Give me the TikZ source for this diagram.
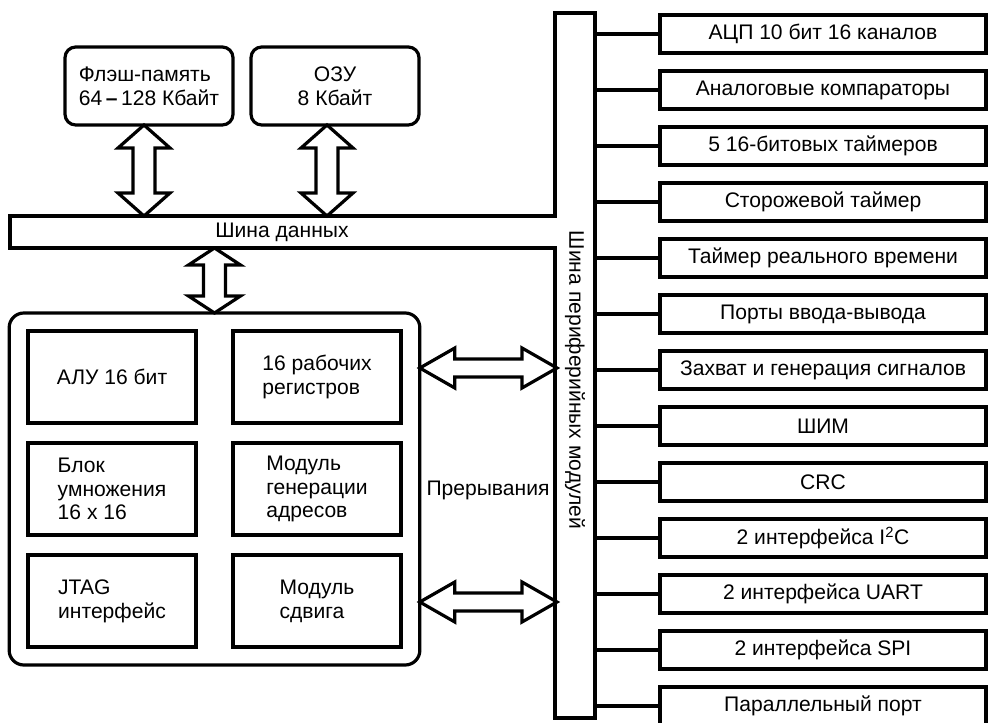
\documentclass[tikz,border=0pt]{standalone}
\usepackage{fontspec}
\setmainfont{Liberation Sans}
\usetikzlibrary{calc}

% fat hollow double arrows: vertical (top, bottom, head length) and horizontal (left, right)
\newcommand{\vfat}[3]{%
  \draw (#1) -- ($(#1)+(26,#3)$) -- ($(#1)+(11,#3)$) -- ($(#2)+(11,-#3)$) -- ($(#2)+(26,-#3)$)
    -- (#2) -- ($(#2)+(-26,-#3)$) -- ($(#2)+(-11,-#3)$) -- ($(#1)+(-11,#3)$) -- ($(#1)+(-26,#3)$) -- cycle;}
\newcommand{\hfat}[2]{%
  \draw (#1) -- ($(#1)+(35,-20)$) -- ($(#1)+(35,-9)$) -- ($(#2)+(-35,-9)$) -- ($(#2)+(-35,-20)$)
    -- (#2) -- ($(#2)+(-35,20)$) -- ($(#2)+(-35,9)$) -- ($(#1)+(35,9)$) -- ($(#1)+(35,20)$) -- cycle;}

\tikzset{
  every node/.style={font=\fontsize{15.8}{17.8}\selectfont, inner sep=0pt, outer sep=0pt},
  mem/.style={draw, rounded corners=8pt, minimum width=126pt, minimum height=58.5pt, align=center},
  cpu/.style={draw, rounded corners=11pt, minimum width=308pt, minimum height=264pt},
  blk/.style={draw, minimum width=126pt, minimum height=69pt, align=left},
  per/.style={draw, minimum width=244.5pt, minimum height=28.5pt}
}

\begin{document}
\begin{tikzpicture}[x=0.75pt, y=-0.75pt, line width=2.4pt, line join=miter]
  \clip (0,0) rectangle (988,723);

  % memories
  \node[mem, align=left] (flash) at (149,86) {Флэш-память\\64\,\textbf{–}\,128 Кбайт};
  \node[mem] (ram) at (335,86) {ОЗУ\\8 Кбайт};

  % data bus + peripheral bus
  \draw (10,216) -- (555,216) -- (555,13) -- (595,13) -- (595,718) -- (555,718) -- (555,248) -- (10,248) -- cycle;
  \coordinate (dbtop) at (0,216);
  \coordinate (dbbot) at (0,248);
  \coordinate (pbe) at (595,0);
  \node (dbus) at (282,232) {Шина данных};
  \node[rotate=-90] (pbus) at (575,380) {Шина периферийных модулей};

  % core
  \node[cpu] (cpu) at (214.5,489) {};
  \node[blk] (alu) at (112,377) {АЛУ 16 бит};
  \node[blk] (reg) at (317,377) {16 рабочих\\регистров};
  \node[blk] (mul) at (112,489) {Блок\\умножения\\16 x 16};
  \node[blk] (agu) at (317,489) {Модуль\\генерации\\адресов};
  \node[blk] (jtag) at (112,601) {JTAG\\интерфейс};
  \node[blk] (shift) at (317,601) {Модуль\\сдвига};
  \node (irq) at (488,490) {Прерывания};

  % fat arrows
  \coordinate (fa) at ($(flash.south)+(-5,0)$);
  \coordinate (fb) at (fa |- dbtop);
  \vfat{fa}{fb}{23}
  \coordinate (ra) at ($(ram.south)+(-8,0)$);
  \coordinate (rb) at (ra |- dbtop);
  \vfat{ra}{rb}{23}
  \coordinate (ca) at (cpu.north |- dbbot);
  \vfat{ca}{cpu.north}{17}
  \coordinate (ia) at (cpu.east |- 0,368);
  \coordinate (ib) at (557,368);
  \hfat{ia}{ib}
  \coordinate (ja) at (cpu.east |- 0,602);
  \coordinate (jb) at (557,602);
  \hfat{ja}{jb}

  % peripherals
  \foreach \txt [count=\i from 0] in {АЦП 10 бит 16 каналов, Аналоговые компараторы,
      5 16-битовых таймеров, Сторожевой таймер, Таймер реального времени,
      Порты ввода-вывода, Захват и генерация сигналов, ШИМ, CRC,
      {2 интерфейса I\textsuperscript{2}C}, 2 интерфейса UART, 2 интерфейса SPI,
      Параллельный порт}
  {
    \node[per] (p\i) at (823,{34+56*\i}) {\txt};
    \draw (pbe |- p\i.west) -- (p\i.west);
  }
\end{tikzpicture}
\end{document}
